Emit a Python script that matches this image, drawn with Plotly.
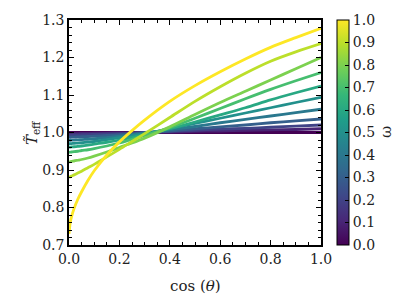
import plotly.graph_objects as go
from plotly.colors import sample_colorscale

mu = [0, 0.005, 0.01, 0.02, 0.035, 0.05, 0.075, 0.1, 0.15, 0.2, 0.25, 0.3,
      0.4, 0.5, 0.6, 0.7, 0.8, 0.9, 1.0]

omegas = [0.0, 0.1, 0.2, 0.3, 0.4, 0.5, 0.6, 0.7, 0.8, 0.9, 1.0]

t_w00 = [1.0] * 19
t_w01 = [0.997, 0.997, 0.997, 0.997, 0.9972, 0.9974, 0.9977, 0.998, 0.9985, 0.999, 0.9995, 1.0,
         1.001, 1.003, 1.004, 1.006, 1.007, 1.008, 1.010]
t_w02 = [0.993, 0.9931, 0.9932, 0.9934, 0.9937, 0.994, 0.9945, 0.995, 0.996, 0.997, 0.9985, 1.0,
         1.003, 1.006, 1.009, 1.011, 1.014, 1.017, 1.020]
t_w03 = [0.987, 0.9872, 0.9874, 0.9877, 0.9882, 0.9887, 0.9893, 0.990, 0.992, 0.994, 0.9965, 0.999,
         1.004, 1.010, 1.015, 1.020, 1.026, 1.031, 1.036]
t_w04 = [0.979, 0.9792, 0.9794, 0.9798, 0.9804, 0.981, 0.982, 0.983, 0.9865, 0.990, 0.994, 0.998,
         1.007, 1.016, 1.026, 1.035, 1.044, 1.053, 1.062]
t_w05 = [0.970, 0.9702, 0.9705, 0.971, 0.9718, 0.9726, 0.9742, 0.976, 0.981, 0.986, 0.9915, 0.997,
         1.010, 1.024, 1.038, 1.052, 1.066, 1.080, 1.094]
t_w06 = [0.961, 0.9612, 0.9615, 0.962, 0.963, 0.964, 0.9663, 0.969, 0.974, 0.980, 0.987, 0.994,
         1.010, 1.028, 1.047, 1.066, 1.087, 1.106, 1.124]
t_w07 = [0.947, 0.9475, 0.948, 0.949, 0.950, 0.952, 0.954, 0.957, 0.964, 0.972, 0.982, 0.992,
         1.013, 1.038, 1.064, 1.090, 1.115, 1.138, 1.160]
t_w08 = [0.921, 0.922, 0.923, 0.924, 0.926, 0.928, 0.932, 0.937, 0.948, 0.960, 0.972, 0.985,
         1.015, 1.048, 1.080, 1.110, 1.140, 1.170, 1.200]
t_w09 = [0.880, 0.882, 0.884, 0.887, 0.892, 0.897, 0.906, 0.915, 0.935, 0.955, 0.976, 0.997,
         1.040, 1.083, 1.122, 1.158, 1.190, 1.215, 1.237]
t_w10 = [0.730, 0.760, 0.775, 0.797, 0.822, 0.842, 0.872, 0.898, 0.940, 0.975, 1.005, 1.033,
         1.083, 1.125, 1.162, 1.196, 1.227, 1.253, 1.278]

series = [t_w00, t_w01, t_w02, t_w03, t_w04, t_w05, t_w06, t_w07, t_w08, t_w09, t_w10]

cb_ticks = [0.0, 0.1, 0.2, 0.3, 0.4, 0.5, 0.6, 0.7, 0.8, 0.9, 1.0]
x_ticks = [0.0, 0.2, 0.4, 0.6, 0.8, 1.0]
y_ticks = [0.7, 0.8, 0.9, 1.0, 1.1, 1.2, 1.3]

FONT = "DejaVu Serif"

colors = sample_colorscale("Viridis", omegas)

fig = go.Figure()
for w, ys, c in zip(omegas, series, colors):
    fig.add_trace(go.Scatter(x=mu, y=ys, mode="lines",
                             line=dict(color=c, width=2.8, shape="spline", smoothing=0.8),
                             showlegend=False, hoverinfo="skip"))

fig.add_trace(go.Scatter(
    x=[None], y=[None], mode="markers", showlegend=False, hoverinfo="skip",
    marker=dict(color=[0, 1], cmin=0, cmax=1, colorscale="Viridis", showscale=True,
                colorbar=dict(x=1.062, xanchor="left", xref="paper",
                              y=0.5, yanchor="middle", len=1.0, lenmode="fraction",
                              thickness=12, thicknessmode="pixels",
                              outlinewidth=1, outlinecolor="black",
                              tickvals=cb_ticks, ticktext=[f"{v:.1f}" for v in cb_ticks],
                              ticks="inside", ticklen=4, tickcolor="black",
                              tickfont=dict(family=FONT, size=14, color="#222"),
                              ypad=0, xpad=0))))

fig.add_annotation(text="ω", x=1.30, y=0.5, xref="paper", yref="paper",
                   showarrow=False, textangle=-90,
                   font=dict(family=FONT, size=15, color="#222"))
fig.add_annotation(text="<i>T̃</i><sub>eff</sub>", x=-0.19, y=0.5, xref="paper", yref="paper",
                   showarrow=False, textangle=-90,
                   font=dict(family=FONT, size=15, color="#222"))
fig.add_annotation(text="cos (<i>θ</i>)", x=0.5, y=-0.18, xref="paper", yref="paper",
                   showarrow=False, yanchor="middle",
                   font=dict(family=FONT, size=15, color="#222"))

axis_common = dict(showgrid=False, zeroline=False, showline=True, linecolor="black",
                   linewidth=1.5, mirror="allticks", ticks="inside", ticklen=5,
                   tickwidth=1, tickcolor="black", automargin=False,
                   tickfont=dict(family=FONT, size=14, color="#222"))

fig.update_xaxes(range=[0, 1], tickvals=x_ticks, ticktext=[f"{v:.1f}" for v in x_ticks],
                 minor=dict(dtick=0.05, ticks="inside", ticklen=3, tickcolor="black"),
                 **axis_common)
fig.update_yaxes(range=[0.7, 1.3], tickvals=y_ticks, ticktext=[f"{v:.1f}" for v in y_ticks],
                 minor=dict(dtick=0.02, ticks="inside", ticklen=3, tickcolor="black"),
                 **axis_common)

fig.update_layout(width=407, height=299, margin=dict(l=61, r=94, t=12, b=62, autoexpand=False),
                  plot_bgcolor="white", paper_bgcolor="white",
                  font=dict(family=FONT, color="#222"))

fig.write_html("out.html")
